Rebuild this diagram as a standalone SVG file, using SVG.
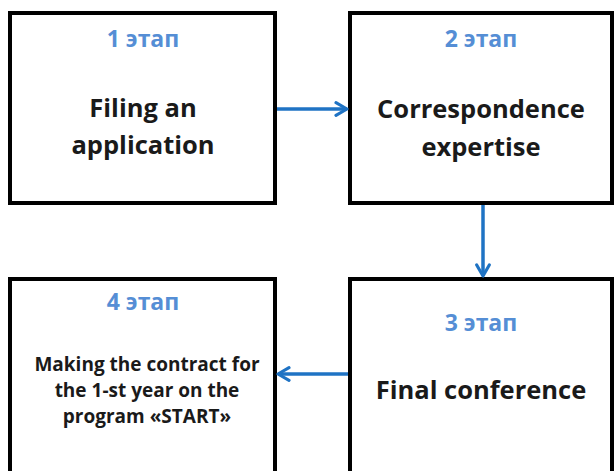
<svg xmlns="http://www.w3.org/2000/svg" width="615" height="471" viewBox="0 0 615 471">
<defs>
<style>
.box{fill:#ffffff;stroke:#000000;stroke-width:4}
.stage{font-family:"Open Sans","Liberation Sans",sans-serif;font-weight:bold;font-size:23px;fill:#558ED5;text-anchor:middle}
.big{font-family:"Open Sans","Liberation Sans",sans-serif;font-weight:bold;font-size:25.5px;fill:#1a1a1a;text-anchor:middle}
.small{font-family:"Open Sans","Liberation Sans",sans-serif;font-weight:bold;font-size:19px;fill:#1a1a1a;text-anchor:middle}
.conn{fill:none;stroke:#1F73C4;stroke-width:3.5}
</style>
<marker id="arr" viewBox="0 0 10 10" refX="8.5" refY="5" markerWidth="4.5" markerHeight="4.5" orient="auto" markerUnits="strokeWidth">
<path d="M1.5,1 L8.5,5 L1.5,9" fill="none" stroke="#1F73C4" stroke-width="2" stroke-linecap="round" stroke-linejoin="round"/>
</marker>
</defs>
<rect width="615" height="471" fill="#ffffff"/>
<g id="node1">
<rect class="box" x="10" y="13" width="265" height="190"/>
<text class="stage" x="143" y="47">1 этап</text>
<text class="big" x="143" y="117">Filing an</text>
<text class="big" x="143" y="154">application</text>
</g>
<g id="node2">
<rect class="box" x="350" y="13" width="262" height="190"/>
<text class="stage" x="481" y="47">2 этап</text>
<text class="big" x="481" y="118">Correspondence</text>
<text class="big" x="481" y="156">expertise</text>
</g>
<g id="node3">
<rect class="box" x="350" y="279" width="262" height="200"/>
<text class="stage" x="481" y="331">3 этап</text>
<text class="big" x="481" y="399">Final conference</text>
</g>
<g id="node4">
<rect class="box" x="10" y="279" width="265" height="200"/>
<text class="stage" x="143" y="310">4 этап</text>
<text class="small" x="147" y="371">Making the contract for</text>
<text class="small" x="147" y="397">the 1-st year on the</text>
<text class="small" x="147" y="423">program «START»</text>
</g>
<g id="connectors">
<path class="conn" d="M277,109 L347,109" marker-end="url(#arr)"/>
<path class="conn" d="M483,205 L483,276" marker-end="url(#arr)"/>
<path class="conn" d="M348,374 L278,374" marker-end="url(#arr)"/>
</g>
</svg>
